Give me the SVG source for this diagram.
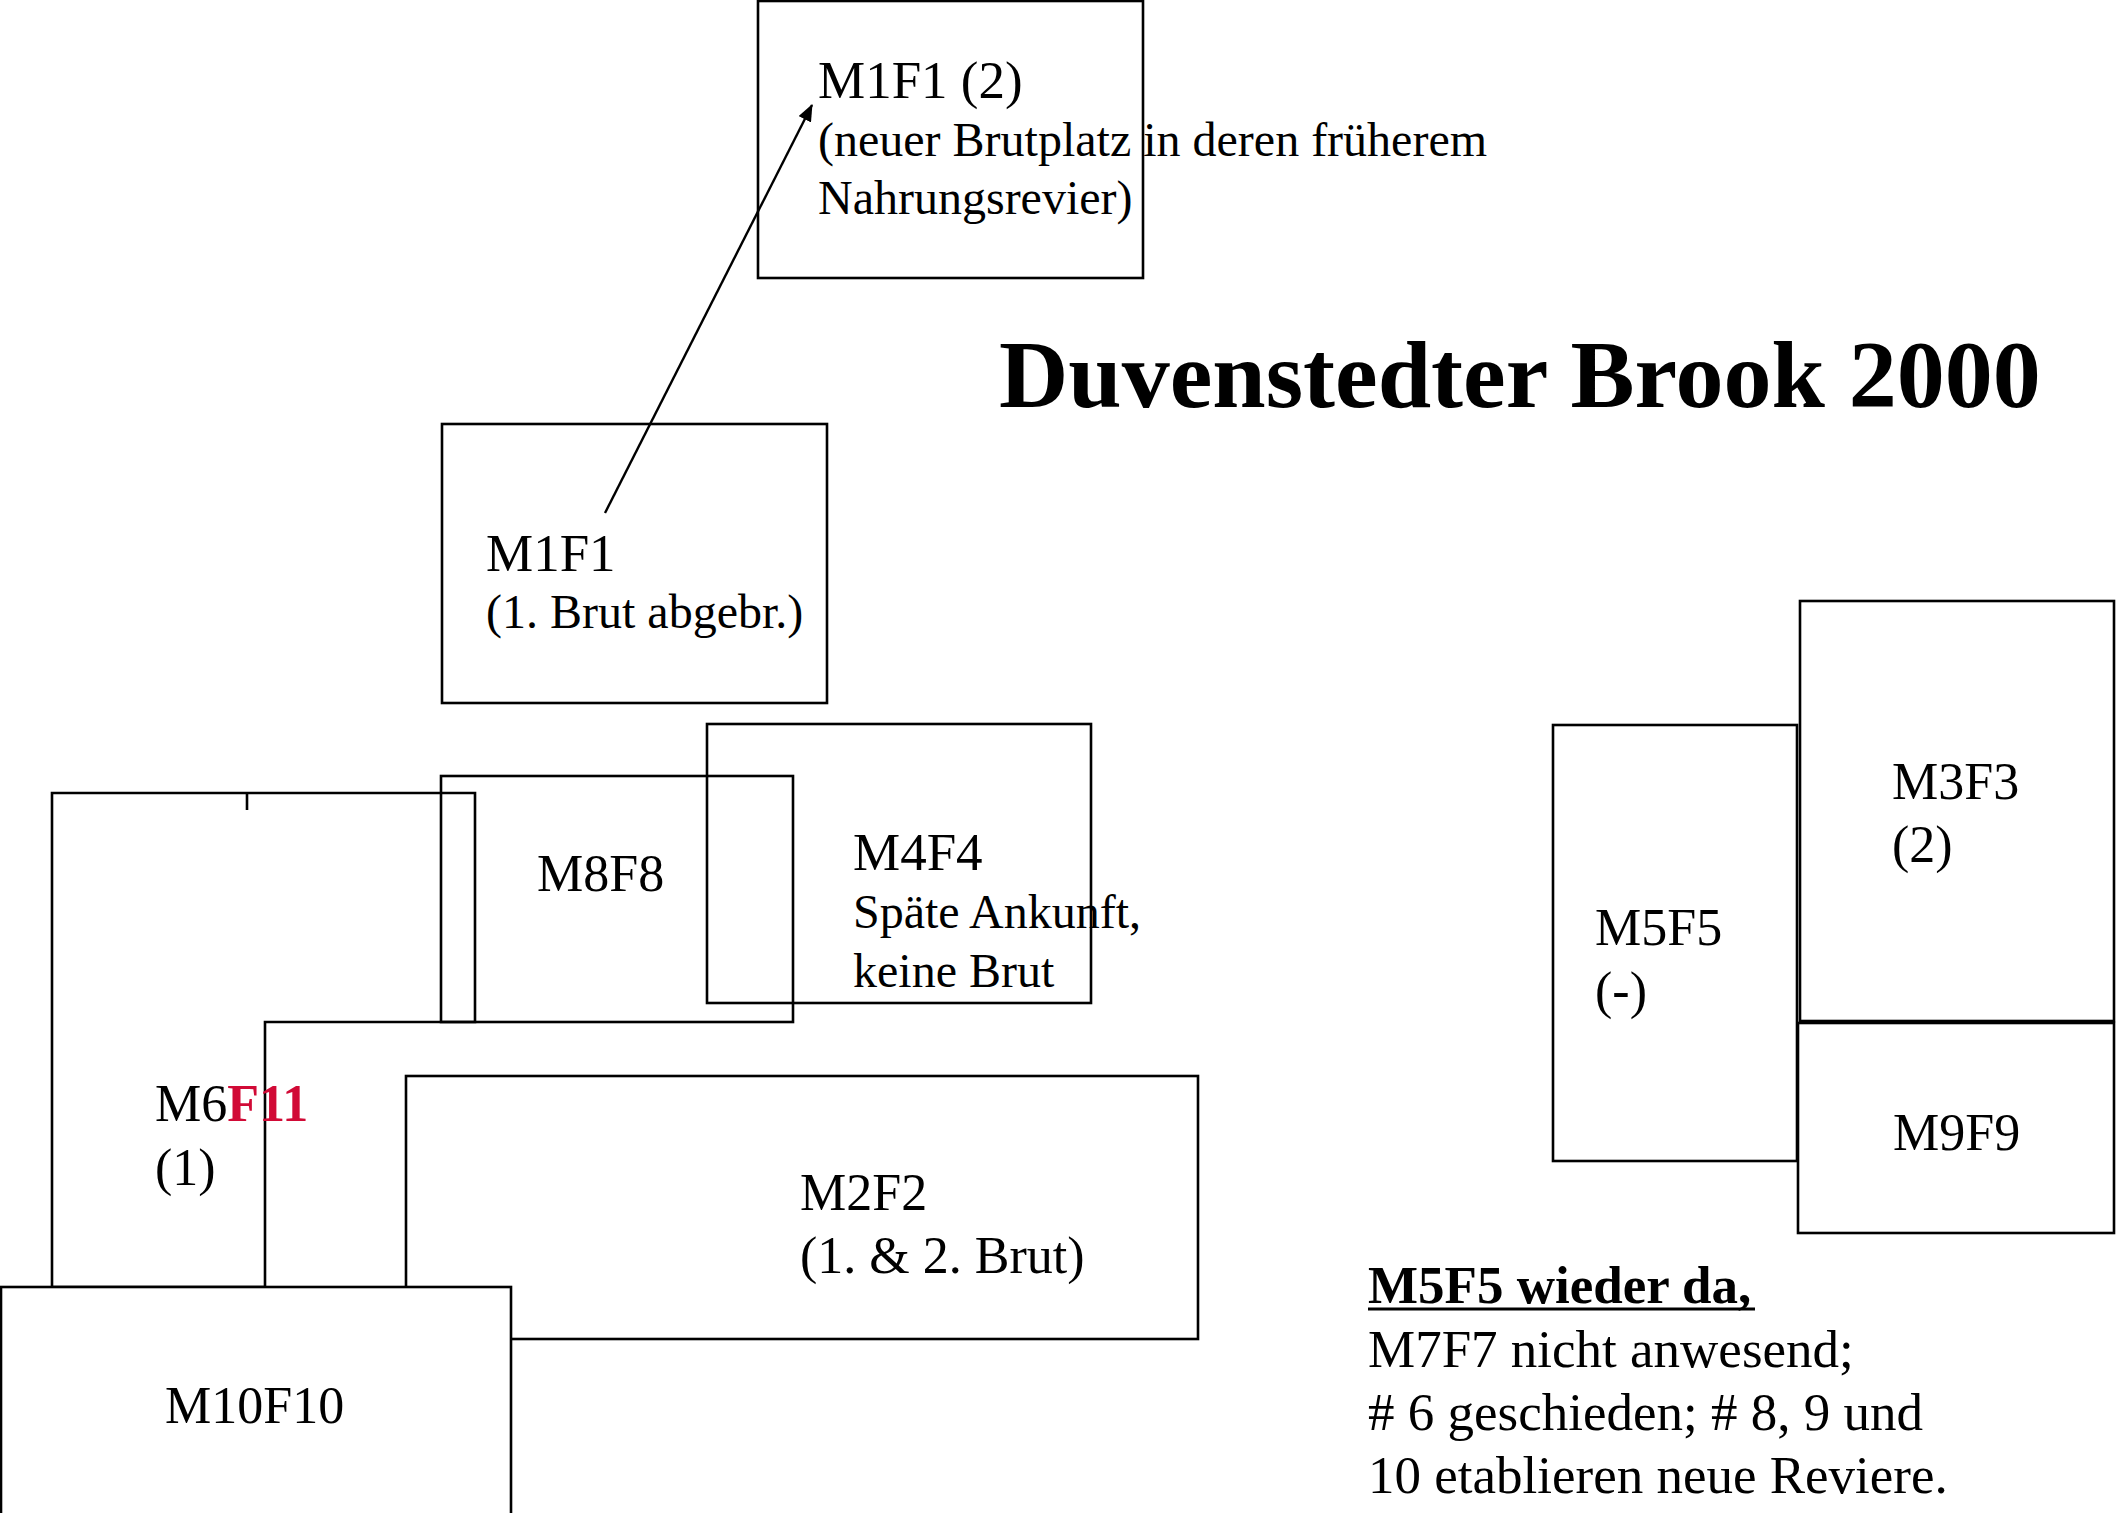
<svg xmlns="http://www.w3.org/2000/svg" width="2117" height="1513" viewBox="0 0 2117 1513">
<style>
.box{fill:none;stroke:#000;stroke-width:2.6}
.t48{font-family:"Liberation Serif","Times New Roman",serif;font-size:48px;fill:#000}
.t52{font-family:"Liberation Serif","Times New Roman",serif;font-size:52px;fill:#000}
.t53{font-family:"Liberation Serif","Times New Roman",serif;font-size:53px;fill:#000}
.red{fill:#D10A36;font-weight:bold}
</style>
<defs>
<marker id="ah" markerUnits="userSpaceOnUse" markerWidth="18" markerHeight="14" refX="16" refY="7" orient="auto">
<path d="M0,0 L17,7 L0,14 Z" fill="#000"/>
</marker>
</defs>
<rect width="2117" height="1513" fill="#fff"/>
<text x="999" y="407" font-family="'Liberation Serif','Times New Roman',serif" font-size="96" font-weight="bold" fill="#000">Duvenstedter Brook 2000</text>
<g id="m1f1-2">
<rect class="box" x="758" y="1" width="385" height="277"/>
<text class="t53" x="818" y="98">M1F1 (2)</text>
<text class="t48" x="818" y="156">(neuer Brutplatz in deren früherem</text>
<text class="t48" x="818" y="214">Nahrungsrevier)</text>
</g>
<g id="m1f1">
<rect class="box" x="442" y="424" width="385" height="279"/>
<text class="t53" x="486" y="571">M1F1</text>
<text class="t48" x="486" y="628">(1. Brut abgebr.)</text>
</g>
<g id="m6f11">
<path class="box" d="M52,793 H475 V1022 H265 V1287 H52 Z"/>
<line x1="247" y1="793" x2="247" y2="810" stroke="#000" stroke-width="2.6"/>
<text class="t52" x="155" y="1121">M6<tspan class="red">F11</tspan></text>
<text class="t52" x="155" y="1185">(1)</text>
</g>
<g id="m8f8">
<rect class="box" x="441" y="776" width="352" height="246"/>
<text class="t52" x="537" y="891">M8F8</text>
</g>
<g id="m4f4">
<rect class="box" x="707" y="724" width="384" height="279"/>
<text class="t53" x="853" y="870">M4F4</text>
<text class="t48" x="853" y="928">Späte Ankunft,</text>
<text class="t48" x="853" y="987">keine Brut</text>
</g>
<g id="m2f2">
<rect class="box" x="406" y="1076" width="792" height="263"/>
<text class="t52" x="800" y="1210">M2F2</text>
<text class="t52" x="800" y="1273">(1. &amp; 2. Brut)</text>
</g>
<g id="m10f10">
<rect class="box" x="1" y="1287" width="510" height="240" style="fill:#fff"/>
<text class="t52" x="165" y="1423">M10F10</text>
</g>
<g id="m5f5">
<rect class="box" x="1553" y="725" width="244" height="436"/>
<text class="t52" x="1595" y="945">M5F5</text>
<text class="t52" x="1595" y="1008">(-)</text>
</g>
<g id="m3f3">
<rect class="box" x="1800" y="601" width="314" height="420"/>
<text class="t52" x="1892" y="799">M3F3</text>
<text class="t52" x="1892" y="862">(2)</text>
</g>
<g id="m9f9">
<rect class="box" x="1798" y="1023" width="316" height="210"/>
<text class="t52" x="1893" y="1150">M9F9</text>
</g>
<g id="note">
<text class="t53" x="1368" y="1303" font-weight="bold">M5F5 wieder da,</text>
<line x1="1368" y1="1309" x2="1755" y2="1309" stroke="#000" stroke-width="2.8"/>
<text class="t53" x="1368" y="1367">M7F7 nicht anwesend;</text>
<text class="t53" x="1368" y="1430"># 6 geschieden; # 8, 9 und</text>
<text class="t53" x="1368" y="1493">10 etablieren neue Reviere.</text>
</g>
<g id="connectors">
<line x1="605" y1="513" x2="812" y2="105" stroke="#000" stroke-width="2.4" marker-end="url(#ah)"/>
</g>
</svg>
